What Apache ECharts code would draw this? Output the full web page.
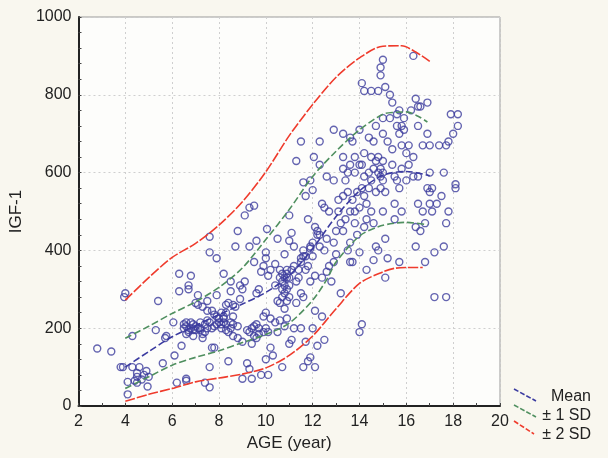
<!DOCTYPE html>
<html><head><meta charset="utf-8">
<script src="https://cdn.jsdelivr.net/npm/echarts@6/dist/echarts.min.js"></script>
<style>html,body{margin:0;padding:0;background:#f9f7ef;}#c{width:608px;height:458px;}</style>
</head><body><div id="c"></div>
<script>
// Scatter data: [age, IGF-1]
const points = [
[2.8,148],[3.4,140],[3.8,100],[3.9,100],[4.0,290],[3.95,280],
[4.1,30],[4.1,62],[4.3,180],[4.4,65],[4.5,75],[4.5,85],[4.6,100],[4.7,68],[4.8,80],[4.9,90],[4.95,50],[4.5,60],[4.3,100],[5.0,75],
[5.3,195],[5.4,270],[5.6,110],[5.7,175],[5.75,180],
[6.05,215],[6.1,130],[6.2,60],[6.3,340],[6.3,295],[6.4,155],[6.5,200],[6.6,215],[6.6,70],[6.6,65],[6.7,310],[6.7,300],[6.8,335],[6.6,185],[6.7,190],[6.8,200],[6.9,210],[6.9,180],[7.0,195],[7.0,265],[7.1,285],[7.1,260],[6.5,210],[6.8,215],
[7.2,215],[7.2,200],[7.3,175],[7.3,185],[7.4,190],[7.4,60],[7.5,200],[7.5,220],[7.5,245],[7.6,395],[7.6,435],[7.6,100],[7.6,48],[7.7,150],[7.7,200],[7.8,235],[7.8,150],[7.9,380],[7.9,285],[7.9,210],[8.0,225],[8.0,215],[7.5,270],[7.3,255],[7.7,245],
[8.1,210],[8.1,200],[8.2,225],[8.2,230],[8.2,340],[8.3,210],[8.3,260],[8.4,190],[8.4,115],[8.5,295],[8.5,200],[8.5,320],[8.6,260],[8.6,180],[8.7,255],[8.7,410],[8.8,450],[8.8,175],[8.9,275],[8.9,310],[9.0,165],[9.0,70],[9.1,320],[9.1,490],[9.0,300],[8.3,240],[8.6,230],[8.4,265],
[9.2,195],[9.2,110],[9.3,95],[9.3,410],[9.3,510],[9.4,70],[9.4,200],[9.5,515],[9.5,370],[9.5,180],[9.6,210],[9.6,425],[9.6,290],[9.7,300],[9.7,200],[9.8,80],[9.8,345],[9.9,360],[9.9,230],[10.0,200],[10.0,240],[10.0,395],[10.0,120],[10.0,380],[9.6,175],[9.4,160],
[10.05,455],[10.1,335],[10.1,80],[10.1,190],[10.2,350],[10.2,150],[10.3,130],[10.4,365],[10.4,310],[10.5,430],[10.5,270],[10.5,190],[10.6,350],[10.6,220],[10.7,300],[10.7,100],[10.7,320],[10.8,390],[10.8,205],[10.9,330],[10.9,340],[10.9,225],[11.0,490],[11.0,425],[11.0,310],[11.0,280],[11.0,160],[10.8,250],[10.6,265],
[11.1,445],[11.1,170],[11.2,410],[11.2,360],[11.2,200],[11.3,630],[11.3,265],[11.4,330],[11.5,680],[11.5,380],[11.5,290],[11.5,200],[11.6,575],[11.6,385],[11.6,280],[11.6,100],[11.7,540],[11.7,350],[11.7,165],[11.8,115],[11.8,480],[11.9,580],[11.9,410],[11.9,320],[12.0,420],[12.0,200],[11.9,125],[12.0,555],[11.8,360],
[12.05,640],[12.1,245],[12.1,335],[12.1,100],[12.2,155],[12.2,450],[12.3,680],[12.3,440],[12.3,620],[12.4,520],[12.4,330],[12.5,510],[12.5,170],[12.6,590],[12.6,345],[12.7,500],[12.8,320],[12.9,710],[12.9,580],[12.9,370],[13.0,390],[12.4,230],
[13.1,530],[13.1,500],[13.2,470],[13.2,290],[13.3,700],[13.3,640],[13.3,610],[13.3,540],[13.3,450],[13.4,580],[13.5,550],[13.5,400],[13.6,690],[13.6,500],[13.6,420],[13.7,370],[13.7,680],[13.7,530],[13.8,470],[13.8,640],[13.9,550],[13.9,440],[14.0,510],[14.0,710],[14.0,395],[14.0,190],[14.1,830],[14.1,620],[14.1,210],[13.6,370],
[14.2,810],[14.2,650],[14.2,590],[14.3,350],[14.3,520],[14.3,480],[14.4,690],[14.4,600],[14.5,810],[14.5,640],[14.5,500],[14.6,680],[14.6,470],[14.6,375],[14.7,720],[14.7,630],[14.7,550],[14.7,410],[14.8,810],[14.8,600],[14.8,400],[14.9,850],[14.9,870],[14.9,610],[14.9,560],[15.0,890],[15.0,740],[15.0,700],[15.0,630],[15.0,580],[15.0,500],[15.1,820],[15.1,550],[15.1,430],[15.1,330],[15.2,680],[15.2,380],
[15.3,800],[15.3,740],[15.4,780],[15.4,660],[15.4,620],[15.5,590],[15.5,520],[15.5,480],[15.6,720],[15.6,580],[15.7,760],[15.7,700],[15.7,560],[15.7,370],[15.8,720],[15.8,670],[15.8,610],[15.8,500],[15.9,710],[16.0,650],[16.0,580],[16.1,670],[16.1,620],[15.6,750],[15.9,740],
[16.2,760],[16.3,900],[16.3,640],[16.3,590],[16.4,790],[16.4,410],[16.4,460],[16.5,770],[16.5,720],[16.5,590],[16.5,520],[16.6,770],[16.6,450],[16.7,670],[16.7,500],[16.8,470],[16.8,370],[16.9,780],[16.9,700],[16.9,560],[17.0,600],[17.0,550],[17.0,520],[17.0,670],
[17.1,560],[17.1,500],[17.2,280],[17.2,395],[17.3,520],[17.4,670],[17.5,540],[17.6,600],[17.6,410],[17.7,670],[17.7,280],[17.7,470],[17.8,500],[17.8,680],[17.9,750],[18.0,700],[18.1,570],[18.2,750],[18.2,720],[18.1,560],
[6.6,205],[6.7,195],[6.9,195],[7.0,205],[7.1,200],[7.2,195],[7.4,210],[7.6,215],[7.8,205],[7.9,230],[8.1,240],[8.2,215],[8.3,195],[8.5,215],[8.6,210],[8.8,205],
[10.6,330],[10.7,340],[10.8,310],[10.8,330],[10.9,350],[10.9,300],[11.0,330],[10.7,280],[10.9,270],[10.8,290],[11.1,350],[11.3,320],[11.4,350],[11.5,370],[11.7,385],[11.6,400],[11.9,405],[12.0,385],[12.1,460],[12.2,440],
[9.3,190],[9.5,205],[9.7,185],[9.9,190],[10.2,225],[10.4,215],
[13.5,600],[13.6,620],[13.8,600],[14.0,620],[14.1,560],[14.2,540],[14.4,560],[14.5,580],[14.6,610],[14.8,640],[14.9,590],[15.0,600],[13.4,480],[13.8,500],[14.2,460],
[12.3,410],[12.5,400],[12.7,360],[12.9,420],[13.0,450],[12.6,430]
];

const meanAges = [4,5,6,7,8,9,10,11,12,13,14,15,16,17];
const meanVals = [100,140,178,207,235,262,292,335,405,487,553,593,603,592];

const plus1Ages = [4,5,6,7,8,9,10,11,12,13,14,15,15.5,16,16.5,16.9];
const plus1Vals = [174,205,238,268,305,355,428,505,590,655,710,750,755,756,745,730];

const minus1Ages = [4,5,6,7,8,9,10,11,12,12.6,13,14,14.8,15.5,16,16.9];
const minus1Vals = [45,75,105,125,142,163,184,213,272,325,370,437,461,470,472,466];

const plus2Ages = [4,5,6,7,8,9,10,11,12,13,14,15,15.8,16.4,17];
const plus2Vals = [272,330,382,418,465,525,602,695,775,845,895,925,926,910,886];

const minus2Ages = [4,5,6,7,8,9,10,11,12,13,14,15,15.5,16,16.7];
const minus2Vals = [12,30,45,62,72,82,98,130,180,250,315,345,354,356,356];

const xTicks = [2,4,6,8,10,12,14,16,18,20];
const yTicks = [0,200,400,600,800,1000];

const zip = (a,b) => a.map((x,i)=>[x,b[i]]);
const FONT = 'Liberation Sans, Arial, sans-serif';

function curve(name, ages, vals, color, dash){
  return {name, type:'line', data: zip(ages, vals), smooth:0.3, symbol:'none', z:4,
    lineStyle:{color, width:1.6, type:dash}};
}

const chart = echarts.init(document.getElementById('c'), null, {renderer:'canvas'});
chart.setOption({
  backgroundColor:'#f9f7ef',
  animation:false,
  grid:{left:77, right:108, top:17, bottom:52, show:true, backgroundColor:'#fdfdfb', borderColor:'#9a9a9a', borderWidth:1},
  xAxis:{type:'value', min:xTicks[0], max:xTicks[xTicks.length-1], interval:2,
    name:'AGE (year)', nameLocation:'middle', nameGap:29,
    nameTextStyle:{fontFamily:FONT, fontSize:17, color:'#222'},
    axisLine:{show:true, lineStyle:{color:'#222', width:2}},
    axisTick:{show:true, inside:true, length:3, lineStyle:{color:'#444'}},
    minorTick:{show:true, splitNumber:2, length:3, lineStyle:{color:'#444'}},
    axisLabel:{fontFamily:FONT, fontSize:16, color:'#222', margin:8, formatter:v=>String(v)},
    splitLine:{show:true, lineStyle:{color:'#cfcfcf', type:[2,3]}}
  },
  yAxis:{type:'value', min:yTicks[0], max:yTicks[yTicks.length-1], interval:200,
    name:'IGF-1', nameLocation:'middle', nameGap:46, nameRotate:90,
    nameTextStyle:{fontFamily:FONT, fontSize:17, color:'#222'},
    axisLine:{show:true, lineStyle:{color:'#222', width:2}},
    axisTick:{show:true, inside:true, length:3, lineStyle:{color:'#444'}},
    minorTick:{show:true, splitNumber:5, length:3, lineStyle:{color:'#444'}},
    axisLabel:{fontFamily:FONT, fontSize:16, color:'#222', margin:7, formatter:v=>String(v)},
    splitLine:{show:true, lineStyle:{color:'#cfcfcf', type:[2,3]}}
  },
  series:[
    {name:'data', type:'scatter', data: points, symbol:'circle', symbolSize:7, z:3,
      itemStyle:{color:'rgba(0,0,0,0)', borderColor:'#3d3d9e', borderWidth:1.4}},
    curve('± 2 SD', plus2Ages, plus2Vals, '#ef3b2c', [10,2]),
    curve('± 2 SD', minus2Ages, minus2Vals, '#ef3b2c', [10,2]),
    curve('± 1 SD', plus1Ages, plus1Vals, '#4f8f5f', [7,3]),
    curve('± 1 SD', minus1Ages, minus1Vals, '#4f8f5f', [7,3]),
    curve('Mean', meanAges, meanVals, '#3b3ba0', [7,3])
  ],
  graphic:[
    {type:'line', shape:{x1:514,y1:389,x2:536,y2:401}, style:{stroke:'#3b3ba0', lineWidth:1.6, lineDash:[5,2]}},
    {type:'line', shape:{x1:514,y1:405,x2:536,y2:417}, style:{stroke:'#4f8f5f', lineWidth:1.6, lineDash:[5,2]}},
    {type:'line', shape:{x1:514,y1:421,x2:534,y2:434}, style:{stroke:'#ef3b2c', lineWidth:1.6, lineDash:[5,2]}},
    {type:'text', right:17, top:389, style:{text:'Mean', font:'16px '+FONT, fill:'#222'}},
    {type:'text', right:17, top:408, style:{text:'± 1 SD', font:'16px '+FONT, fill:'#222'}},
    {type:'text', right:17, top:427, style:{text:'± 2 SD', font:'16px '+FONT, fill:'#222'}}
  ]
});
</script></body></html>
